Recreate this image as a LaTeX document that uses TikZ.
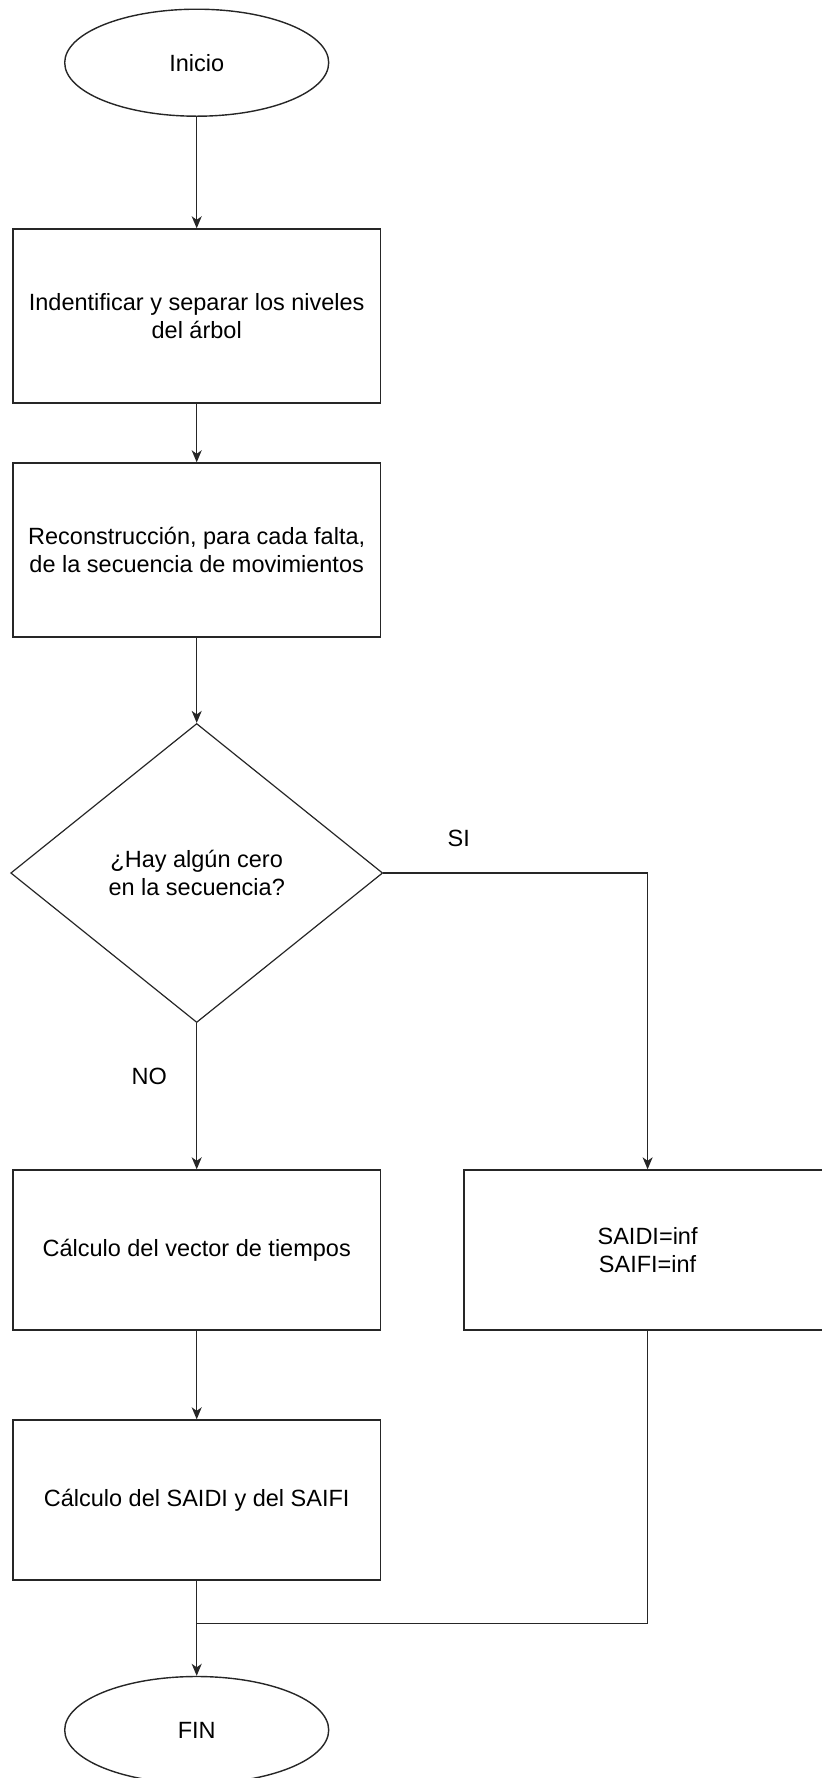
\documentclass[tikz,border=0pt]{standalone}
\usepackage{fontspec}
\setmainfont{Liberation Sans}
\usetikzlibrary{shapes.geometric,arrows.meta}
\begin{document}
\begin{tikzpicture}[x=1pt,y=-1pt,
  every node/.style={font=\fontsize{23.5}{28}\selectfont, text=black},
  ln/.style={draw=black!85, line width=1.4pt},
  arr/.style={ln, -{Stealth[length=12pt,width=10pt,inset=3.5pt]}},
  term/.style={ellipse, draw=black!85, line width=1.4pt, minimum width=264pt, minimum height=107pt, inner sep=0pt},
  proc/.style={rectangle, draw=black!85, line width=1.4pt, minimum width=367.5pt, minimum height=#1, inner sep=0pt, align=center},
  dec/.style={diamond, draw=black!85, line width=1.2pt, minimum width=372pt, minimum height=299pt, inner sep=0pt, align=center},
  lbl/.style={inner sep=0pt}]
\useasboundingbox (0,0) rectangle (822,1778);

\node[term] (inicio) at (196.7,62.7) {Inicio};
\node[proc=174pt] (b1) at (196.7,316) {Indentificar y separar los niveles\\del árbol};
\node[proc=174pt] (b2) at (196.7,550) {Reconstrucción, para cada falta,\\de la secuencia de movimientos};
\node[dec] (dec) at (196.7,873) {¿Hay algún cero\\en la secuencia?};
\node[proc=160pt] (b3) at (196.7,1250) {Cálculo del vector de tiempos};
\node[proc=160pt] (bsi) at (647.6,1250) {SAIDI=inf\\SAIFI=inf};
\node[proc=160pt] (b4) at (196.7,1500) {Cálculo del SAIDI y del SAIFI};
\node[term] (fin) at (196.7,1730) {FIN};

\node[lbl] (si) at (458.7,838.3) {SI};
\node[lbl] (no) at (149.3,1076.7) {NO};

\coordinate (m) at (196.7,1623.3);

\draw[arr] (inicio) -- (b1);
\draw[arr] (b1) -- (b2);
\draw[arr] (b2) -- (dec);
\draw[arr] (dec.east) -| (bsi.north);
\draw[arr] (dec) -- (b3);
\draw[arr] (b3) -- (b4);
\draw[ln] (bsi.south) |- (m);
\draw[arr] (b4) -- (fin);
\end{tikzpicture}
\end{document}
